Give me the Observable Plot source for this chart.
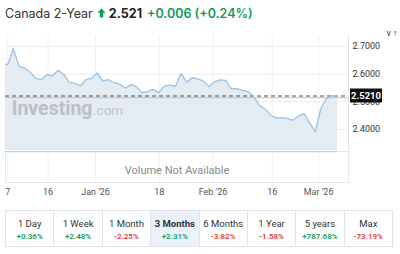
<!DOCTYPE html>
<html><head><meta charset="utf-8">
<script src="https://cdn.jsdelivr.net/npm/d3@7"></script>
<script src="https://cdn.jsdelivr.net/npm/@observablehq/plot@0.6"></script>
<style>
body{margin:0;background:#fff;font-family:Inter,Roboto,"Noto Sans",sans-serif;width:400px;height:254px;overflow:hidden;position:relative}
#title{position:absolute;left:5px;top:3px;height:20px;font-size:12.5px;color:#333;white-space:nowrap;display:flex;align-items:center}
#title .px{font-weight:700;color:#222;margin-left:3px}
#title .ch{font-weight:600;color:#12995b;margin-left:5px}
#main{position:absolute;left:0;top:26px}
#vol{position:absolute;left:0;top:150px}
#tbl{position:absolute;left:5px;top:210px;display:flex;border:1px solid #dfe3e8;box-sizing:border-box;width:388px;height:37px}
#tbl .c{flex:1;border-left:1px solid #dfe3e8;text-align:center;font-family:Roboto,sans-serif}
#tbl .c:first-child{border-left:none}
#tbl .c.sel{background:#eaf1f8}
#tbl .c.sel .l{font-weight:700}
#tbl .l{font-size:9.5px;color:#333;margin-top:7px;line-height:11px}
#tbl .v{font-size:8px;font-weight:600;margin-top:3px;line-height:10px}
</style></head>
<body>
<div id="title"></div>
<div id="main"></div>
<div id="vol"></div>
<div id="tbl"></div>
<script>
const seriesName = "Canada 2-Year";
const lastPrice = 2.521;
const change = "+0.006";
const changePct = "(+0.24%)";
const prevClose = 2.515;
const yields = [2.635,2.635,2.692,2.629,2.622,2.607,2.585,2.580,2.598,2.594,
  2.614,2.599,2.569,2.567,2.558,2.580,2.585,2.604,2.576,2.580,
  2.569,2.564,2.550,2.562,2.555,2.533,2.537,2.545,2.533,2.557,
  2.560,2.556,2.603,2.571,2.587,2.583,2.575,2.555,2.572,2.579,
  2.577,2.547,2.548,2.541,2.537,2.518,2.487,2.475,2.452,2.442,
  2.443,2.440,2.433,2.448,2.457,2.424,2.392,2.475,2.512,2.522,2.521];
const xTickPos = [1, 8.2, 16.7, 28.1, 37.7, 48.3, 56.6];
const xTickLabels = ["7","16","Jan '26","18","Feb '26","16","Mar '26"];
const yTicks = [2.4, 2.5, 2.6, 2.7];
const periods = ["1 Day","1 Week","1 Month","3 Months","6 Months","1 Year","5 years","Max"];
const periodChanges = ["+0.36%","+2.48%","-2.25%","+2.31%","-3.82%","-1.58%","+787.68%","-73.19%"];
const selectedPeriod = "3 Months";

const xDomain = [0.59, 61.95];
const yDomain = [2.324, 2.7397];
const data = yields.map((v,i)=>({i, v}));
const green = "#12995b", red = "#e5393b";

// title
const t = document.getElementById("title");
t.innerHTML = `<span>${seriesName}</span>
<svg width="9" height="10" viewBox="0 0 9 10" style="margin-left:4px"><path d="M4.5 0.5 L8.5 4.8 L6.2 4.8 L6.2 9.5 L2.8 9.5 L2.8 4.8 L0.5 4.8 Z" fill="${green}"/></svg>
<span class="px">${lastPrice.toFixed(3)}</span><span class="ch">${change} ${changePct}</span>`;

const main = Plot.plot({
  width: 400, height: 124,
  marginLeft: 5, marginRight: 52, marginTop: 9, marginBottom: 0,
  style: {fontFamily: "Roboto, sans-serif", background: "transparent"},
  x: {domain: xDomain, axis: null},
  y: {domain: yDomain, axis: null},
  marks: [
    Plot.gridY(yTicks, {stroke: "#ececec", strokeOpacity: 1}),
    Plot.gridX(xTickPos, {stroke: "#f0f0f0", strokeOpacity: 1}),
    Plot.areaY(data, {x: "i", y1: yDomain[0], y2: "v", fill: "#e3ebf3", clip: true}),
    Plot.text(["Investing"], {frameAnchor: "top-left", dx: 87, dy: 73, textAnchor: "end", lineAnchor: "middle", fontSize: 19.5, fontWeight: 700, fill: "#bcc0c4", fontFamily: "Roboto, sans-serif"}),
    Plot.text([".com"], {frameAnchor: "top-left", dx: 87.5, dy: 75, textAnchor: "start", lineAnchor: "middle", fontSize: 13.5, fill: "#c2c6ca", fontFamily: "Roboto, sans-serif"}),
    Plot.ruleY([prevClose], {stroke: "#f3aaaa", strokeWidth: 1}),
    Plot.ruleY([lastPrice], {stroke: "#4a4a4a", strokeDasharray: "4,3", strokeWidth: 1}),
    Plot.lineY(data, {x: "i", y: "v", stroke: "#9cc3e4", strokeWidth: 1.3, clip: true}),
    Plot.ruleX([xDomain[1]], {stroke: "#e2e2e2"}),
    Plot.axisY(yTicks, {anchor: "right", tickSize: 0, tickPadding: 4, tickFormat: d => d.toFixed(4), fontSize: 9, fill: "#333"})
  ]
});
document.getElementById("main").appendChild(main);
// price badge
{
  const ys = main.scale("y"), xs = main.scale("x");
  const yy = ys.apply(lastPrice), xx = xs.apply(xDomain[1]);
  const svg = d3.select(main);
  svg.append("rect").attr("x", xx + 2).attr("y", yy - 7).attr("width", 32).attr("height", 14).attr("fill", "#111");
  svg.append("text").attr("x", xx + 18).attr("y", yy).attr("dy", "0.35em").attr("text-anchor", "middle")
    .attr("fill", "#fff").attr("font-size", 9.5).attr("font-weight", 700).attr("font-family", "Roboto, sans-serif")
    .text(lastPrice.toFixed(4));
}

const vol = Plot.plot({
  width: 400, height: 50,
  marginLeft: 5, marginRight: 52, marginTop: 1, marginBottom: 18,
  style: {fontFamily: "Roboto, sans-serif", background: "transparent"},
  x: {domain: xDomain, axis: null},
  y: {domain: [0, 1], axis: null},
  marks: [
    Plot.gridX(xTickPos, {stroke: "#f0f0f0", strokeOpacity: 1}),
    Plot.frame({stroke: "#e6e6e6"}),
    Plot.ruleY([1], {x1: 0, x2: yields.length - 1, stroke: "#c9d0d8", strokeWidth: 1.5, clip: true}),
    Plot.text(["Volume Not Available"], {frameAnchor: "middle", dy: 3, fontSize: 11, fill: "#8a8a8a"}),
    Plot.axisX(xTickPos, {tickSize: 0, tickPadding: 6, tickFormat: d => xTickLabels[xTickPos.indexOf(d)], fontSize: 9, fill: "#555"})
  ]
});
document.getElementById("vol").appendChild(vol);

const tbl = document.getElementById("tbl");
periods.forEach((p, k) => {
  const c = document.createElement("div");
  c.className = "c" + (p === selectedPeriod ? " sel" : "");
  const v = periodChanges[k];
  c.innerHTML = `<div class="l">${p}</div><div class="v" style="color:${v.startsWith("-") ? red : green}">${v}</div>`;
  tbl.appendChild(c);
});
</script>
</body></html>
